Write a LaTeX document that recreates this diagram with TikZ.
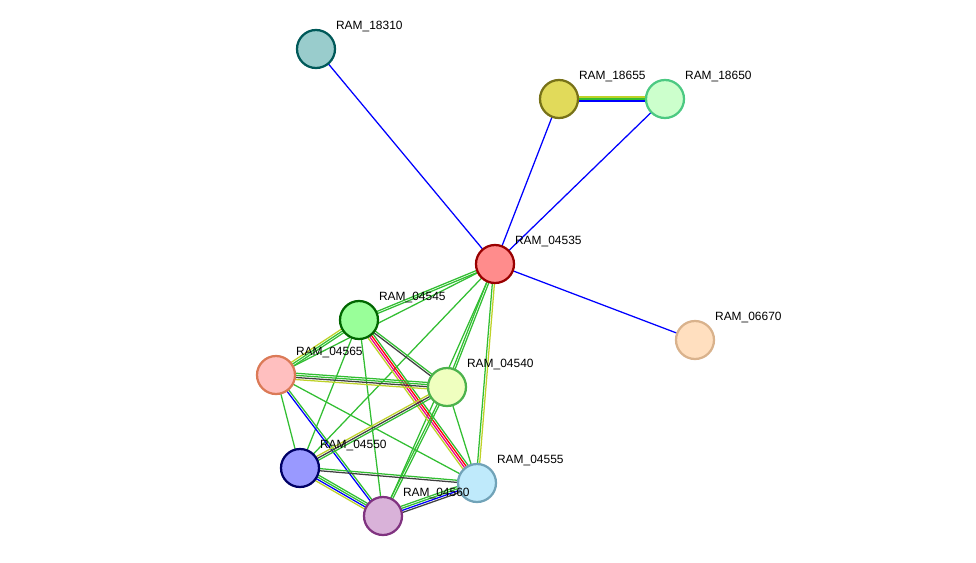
\documentclass[tikz,border=0pt]{standalone}
\usepackage{fontspec}
\setmainfont{Liberation Sans}
\usetikzlibrary{calc,backgrounds}
\definecolor{lgreen}{RGB}{50,190,50}
\definecolor{lyellow}{RGB}{190,210,40}
\newcommand{\link}[3]{%
  \foreach \c [count=\n] in {#3} {\xdef\nlinks{\n}}%
  \foreach \c [count=\i] in {#3} {%
    \pgfmathsetmacro\off{(\i-(\nlinks+1)/2)*1.5}%
    \draw[color=\c, line width=0.9pt] ($(#1)!\off pt!90:(#2)$) -- ($(#2)!\off pt!-90:(#1)$);
  }}
\begin{document}
\begin{tikzpicture}[x=0.025cm, y=-0.025cm,
    prot/.style={circle, line width=1.6pt, inner sep=0pt, minimum size=0.95cm},
    lbl/.style={anchor=south west, inner sep=0pt, font=\fontsize{8.5}{10}\selectfont, xshift=0.14cm, yshift=0.07cm}]
  \useasboundingbox (0,0) rectangle (976,562);
  %% proteins
  \node[prot, fill=teal!40!white, draw=teal!70!black, label={[lbl]north east:RAM\_18310}] (p18310) at (316,49) {};
  \node[prot, fill=yellow!55!olive!60!white, draw=olive!80!black, label={[lbl]north east:RAM\_18655}] (p18655) at (559,99) {};
  \node[prot, fill=green!20!white, draw=green!40!teal!70!white, label={[lbl]north east:RAM\_18650}] (p18650) at (665,99) {};
  \node[prot, fill=red!45!white, draw=red!60!black, label={[lbl]north east:RAM\_04535}] (p04535) at (495,264) {};
  \node[prot, fill=orange!25!white, draw=brown!60!white, label={[lbl]north east:RAM\_06670}] (p06670) at (695,340) {};
  \node[prot, fill=green!40!white, draw=green!40!black, label={[lbl]north east:RAM\_04545}] (p04545) at (359,320) {};
  \node[prot, fill=red!25!white, draw=red!30!brown!80!white, label={[lbl]north east:RAM\_04565}] (p04565) at (276,375) {};
  \node[prot, fill=lime!25!white, draw=green!40!gray, label={[lbl]north east:RAM\_04540}] (p04540) at (447,387) {};
  \node[prot, fill=blue!40!white, draw=blue!40!black, label={[lbl]north east:RAM\_04550}] (p04550) at (300,468) {};
  \node[prot, fill=cyan!25!white, draw=cyan!40!gray, label={[lbl]north east:RAM\_04555}] (p04555) at (477,483) {};
  \node[prot, fill=violet!30!white, draw=violet!60!gray, label={[lbl]north east:RAM\_04560}] (p04560) at (383,516) {};
  %% interactions
  \begin{scope}[on background layer]
    \link{p18310}{p04535}{blue}
    \link{p18655}{p18650}{blue,lgreen,lyellow}
    \link{p18655}{p04535}{blue}
    \link{p18650}{p04535}{blue}
    \link{p04535}{p06670}{blue}
    \link{p04535}{p04545}{lgreen,lgreen}
    \link{p04535}{p04565}{lgreen}
    \link{p04535}{p04540}{lgreen,lgreen}
    \link{p04535}{p04555}{lgreen,lyellow}
    \link{p04535}{p04550}{lgreen}
    \link{p04535}{p04560}{lgreen}
    \link{p04545}{p04565}{lyellow,lgreen,lgreen}
    \link{p04545}{p04540}{darkgray,lgreen}
    \link{p04545}{p04555}{lyellow,magenta,red,lgreen}
    \link{p04545}{p04550}{lgreen}
    \link{p04545}{p04560}{lgreen}
    \link{p04565}{p04540}{lyellow,darkgray,lgreen,lgreen}
    \link{p04565}{p04550}{lgreen}
    \link{p04565}{p04560}{blue,lgreen}
    \link{p04565}{p04555}{lgreen}
    \link{p04540}{p04550}{lyellow,darkgray,lgreen}
    \link{p04540}{p04560}{lgreen,lgreen}
    \link{p04540}{p04555}{lgreen}
    \link{p04550}{p04555}{darkgray,lgreen}
    \link{p04550}{p04560}{lyellow,blue,lgreen,lgreen}
    \link{p04560}{p04555}{darkgray,blue,lgreen,lgreen}
  \end{scope}
\end{tikzpicture}
\end{document}
